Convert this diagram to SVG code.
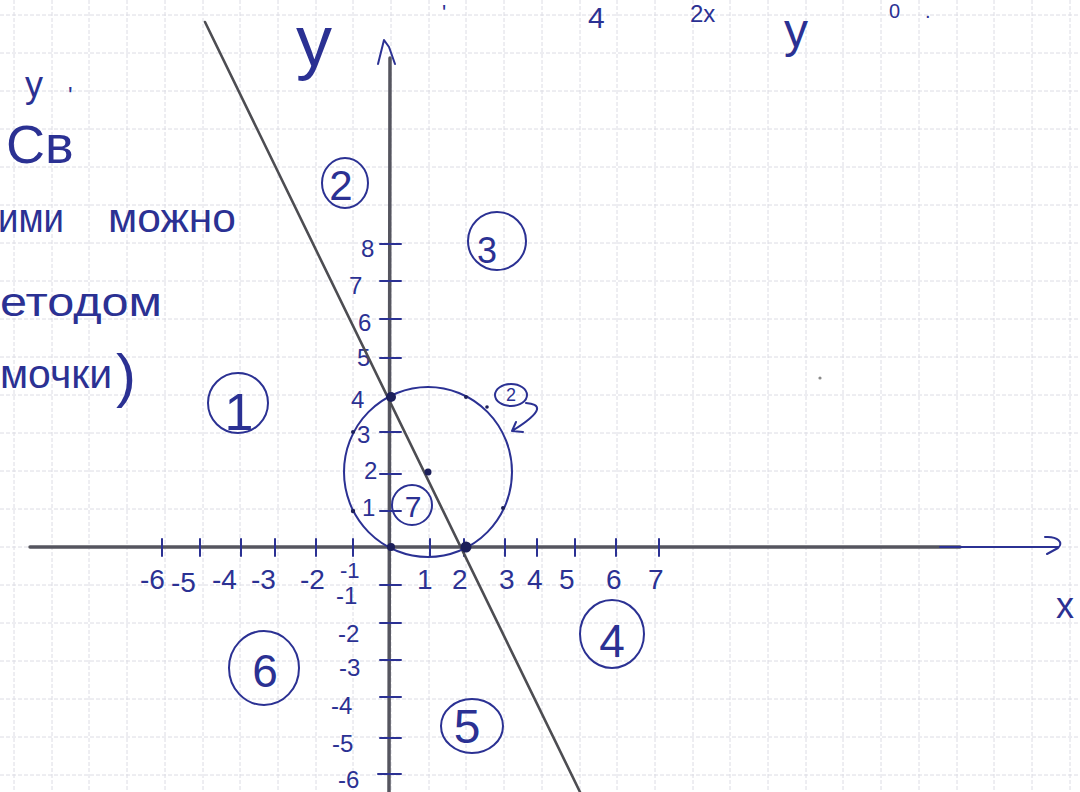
<svg xmlns="http://www.w3.org/2000/svg" width="1080" height="792" viewBox="0 0 1080 792">
  <defs>
    <style>
      .grid { stroke: #dcdce4; stroke-width: 1; stroke-dasharray: 4 2; fill: none; }
      .ink { stroke: #2b3193; stroke-width: 2; fill: none; stroke-linecap: round; stroke-linejoin: round; }
      .axis { stroke: #55555f; stroke-width: 3.5; fill: none; stroke-linecap: round; }
      .t { font-family: "Liberation Sans", "DejaVu Sans", sans-serif; fill: #2b3193; }
      .dot { fill: #1c1f5a; }
    </style>
  </defs>
  <rect x="0" y="0" width="1080" height="792" fill="#ffffff"/>

  <g id="grid">
    <path class="grid" d="M14,0V792 M52,0V792 M89,0V792 M127,0V792 M165,0V792 M203,0V792 M240,0V792 M278,0V792 M316,0V792 M353,0V792 M391,0V792 M429,0V792 M466,0V792 M504,0V792 M542,0V792 M580,0V792 M617,0V792 M655,0V792 M693,0V792 M730,0V792 M768,0V792 M806,0V792 M843,0V792 M881,0V792 M919,0V792 M957,0V792 M994,0V792 M1032,0V792 M1070,0V792"/>
    <path class="grid" d="M0,15H1080 M0,53H1080 M0,91H1080 M0,129H1080 M0,167H1080 M0,205H1080 M0,243H1080 M0,281H1080 M0,319H1080 M0,357H1080 M0,395H1080 M0,433H1080 M0,471H1080 M0,509H1080 M0,547H1080 M0,585H1080 M0,623H1080 M0,661H1080 M0,699H1080 M0,737H1080 M0,775H1080"/>
  </g>

  <g id="axes">
    <line class="axis" x1="30" y1="547" x2="960" y2="547"/>
    <line class="ink" x1="940" y1="547" x2="1058" y2="547"/>
    <path class="ink" d="M1045,537 C1058,536 1064,543 1058,548 L1047,554" stroke-width="3"/>
    <line class="axis" x1="389" y1="792" x2="390" y2="58"/>
    <path class="ink" d="M378,64 L384,40 L389,47 L395,64" stroke-width="3"/>
    <text class="t" x="1056" y="618" font-size="36">x</text>
    <text class="t" x="296" y="66" font-size="72">y</text>
  </g>

  <g id="ticks">
    <path class="ink" d="M162,539V556 M200,539V556 M241,539V556 M275,539V556 M316,539V556 M353,539V556 M430,539V556 M464,539V556 M505,539V556 M537,539V556 M575,539V556 M616,539V556 M659,539V556"/>
    <path class="ink" d="M380,244H401 M380,281H401 M380,319H401 M380,358H401 M380,432H401 M380,474H401 M380,511H401 M380,585H401 M380,623H401 M380,660H401 M380,697H401 M380,738H401 M378,774H401"/>
  </g>

  <g id="x-labels" class="t" font-size="28">
    <text x="140" y="589">-6</text>
    <text x="171" y="592">-5</text>
    <text x="212" y="589">-4</text>
    <text x="251" y="589">-3</text>
    <text x="300" y="589">-2</text>
    <text x="340" y="578" font-size="22">-1</text>
    <text x="417" y="589">1</text>
    <text x="452" y="589">2</text>
    <text x="499" y="589">3</text>
    <text x="527" y="589">4</text>
    <text x="559" y="589">5</text>
    <text x="606" y="589">6</text>
    <text x="648" y="589">7</text>
  </g>

  <g id="y-labels" class="t" font-size="24">
    <text x="361" y="257">8</text>
    <text x="349" y="294">7</text>
    <text x="358" y="331">6</text>
    <text x="357" y="366">5</text>
    <text x="351" y="408">4</text>
    <text x="357" y="443">3</text>
    <text x="364" y="479">2</text>
    <text x="362" y="516">1</text>
    <text x="336" y="604">-1</text>
    <text x="338" y="642">-2</text>
    <text x="339" y="676">-3</text>
    <text x="331" y="714">-4</text>
    <text x="332" y="752">-5</text>
    <text x="338" y="788">-6</text>
  </g>

  <g id="line">
    <line x1="205" y1="22" x2="580" y2="792" stroke="#4d4d52" stroke-width="2.6" stroke-linecap="round"/>
  </g>

  <g id="circle">
    <ellipse class="ink" cx="428" cy="472" rx="84" ry="85"/>
    <circle class="dot" cx="391" cy="397" r="5"/>
    <circle class="dot" cx="466" cy="547" r="5.5"/>
    <circle class="dot" cx="391" cy="547" r="4"/>
    <circle class="dot" cx="428" cy="472" r="3.5"/>
    <circle class="dot" cx="466" cy="397" r="2"/>
    <circle class="dot" cx="487" cy="407" r="1.8"/>
    <circle class="dot" cx="503" cy="508" r="2"/>
    <circle class="dot" cx="353" cy="511" r="2.2"/>
    <circle class="dot" cx="353" cy="432" r="2"/>
  </g>

  <g id="region-markers" class="t">
    <g id="r1"><ellipse class="ink" cx="238" cy="403" rx="30" ry="30"/><text x="239" y="430" font-size="52" text-anchor="middle">1</text></g>
    <g id="r2"><ellipse class="ink" cx="345" cy="183" rx="23" ry="25"/><text x="341" y="200" font-size="42" text-anchor="middle">2</text></g>
    <g id="r3"><ellipse class="ink" cx="497" cy="241" rx="29" ry="29"/><text x="487" y="263" font-size="36" text-anchor="middle">3</text></g>
    <g id="r4"><ellipse class="ink" cx="612" cy="634" rx="32" ry="34"/><text x="612" y="657" font-size="46" text-anchor="middle">4</text></g>
    <g id="r5"><ellipse class="ink" cx="472" cy="726" rx="31" ry="27"/><text x="467" y="743" font-size="48" text-anchor="middle">5</text></g>
    <g id="r6"><ellipse class="ink" cx="264" cy="668" rx="35" ry="37"/><text x="265" y="687" font-size="46" text-anchor="middle">6</text></g>
    <g id="r7"><ellipse class="ink" cx="412" cy="505" rx="20" ry="20"/><text x="413" y="517" font-size="30" text-anchor="middle">7</text></g>
    <g id="r2b">
      <ellipse class="ink" cx="511" cy="395" rx="16" ry="11"/>
      <text x="511" y="401" font-size="18" text-anchor="middle">2</text>
      <path class="ink" d="M526,403 C540,404 546,410 512,431 M512,431 L516,422 M512,431 L523,432"/>
    </g>
  </g>

  <g id="notes" class="t">
    <text x="25" y="97" font-size="36">y</text>
    <text x="68" y="104" font-size="24">'</text>
    <text x="6" y="163" font-size="54">Св</text>
    <text x="-2" y="232" font-size="40" textLength="66" lengthAdjust="spacingAndGlyphs">ими</text>
    <text x="108" y="232" font-size="40" textLength="128" lengthAdjust="spacingAndGlyphs">можно</text>
    <text x="0" y="316" font-size="40" textLength="162" lengthAdjust="spacingAndGlyphs">етодом</text>
    <text x="0" y="388" font-size="40" textLength="112" lengthAdjust="spacingAndGlyphs">мочки</text>
    <text x="116" y="396" font-size="60">)</text>
    <text x="442" y="20" font-size="22">'</text>
    <text x="588" y="28" font-size="30">4</text>
    <text x="690" y="22" font-size="24">2x</text>
    <text x="784" y="47" font-size="48">y</text>
    <text x="889" y="18" font-size="20">0</text>
    <text x="925" y="18" font-size="20">.</text>
  </g>

  <circle cx="820" cy="378" r="1.6" fill="#8a8a8a"/>
</svg>
